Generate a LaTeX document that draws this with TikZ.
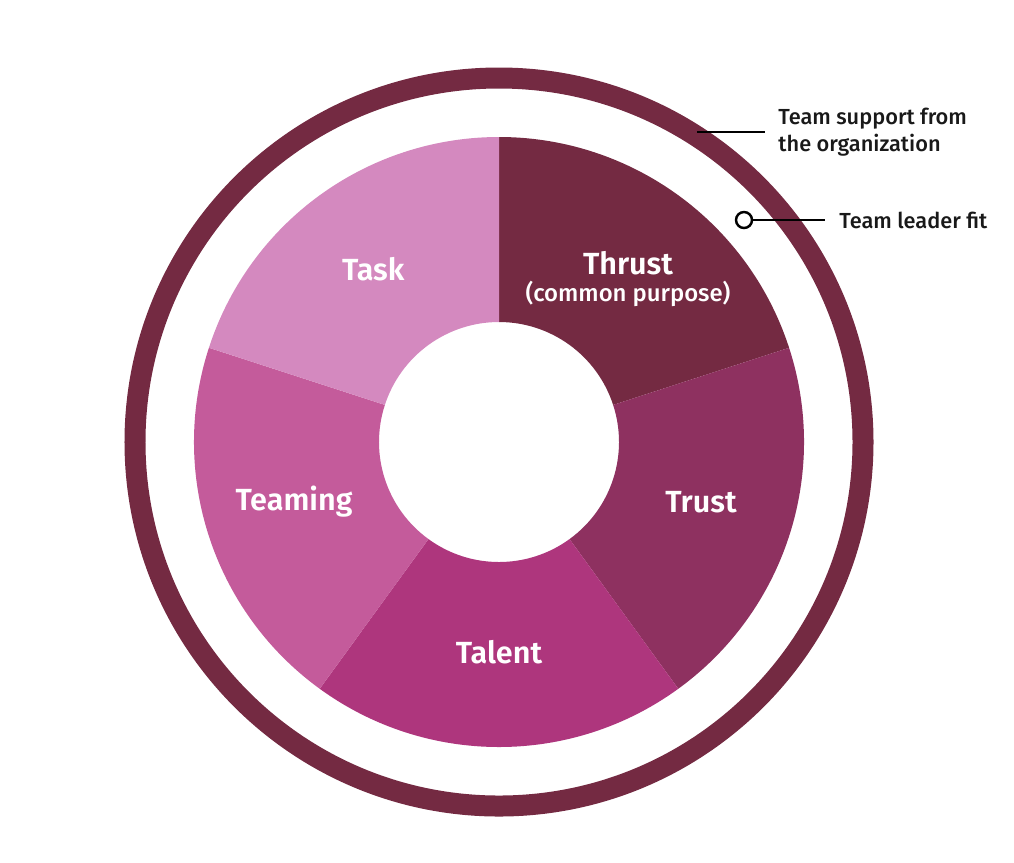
\documentclass[tikz,border=0pt]{standalone}
\usepackage{fontspec}
\IfFontExistsTF{Fira Sans SemiBold}
  {\setmainfont{Fira Sans}[BoldFont={Fira Sans SemiBold}]}
  {\setmainfont{Fira Sans}}
\IfFontExistsTF{Fira Sans Medium}
  {\newfontfamily\mediumfont{Fira Sans Medium}}
  {\newfontfamily\mediumfont{Fira Sans}[FakeBold=1]}
\usetikzlibrary{calc}

\definecolor{plum}{HTML}{742A42}
\definecolor{berry}{HTML}{8E3160}
\definecolor{magenta}{HTML}{AE367D}
\definecolor{orchid}{HTML}{C45B9B}
\definecolor{lilac}{HTML}{D489BF}

\begin{document}
\begin{tikzpicture}[thick]
    % `segment' is the text on a coloured slice of the wheel.
    % `note' is used for the two remarks at the top right.
    % `marker' is the small open circle of the team leader.
    \tikzstyle{segment} = [text=white,font=\fontsize{8.7}{10}\selectfont\bfseries,align=center]
    \tikzstyle{note} = [text=black!90,font=\fontsize{6.2}{7.7}\selectfont\mediumfont,align=left,anchor=west,inner sep=0pt]
    \tikzstyle{marker} = [draw=black,fill=white,circle,line width=0.7pt,minimum size=0.16cm,inner sep=0pt]
    \tikzstyle{pointer} = [draw=black,line width=0.7pt]
    %
    \useasboundingbox (-4.99,-4.20) rectangle (5.15,4.42);
    % Outer ring.
    \draw[plum,line width=0.21cm] (0,0) circle (3.64);
    % Slices of the wheel.
    \foreach \start/\col in {18/plum,-54/berry,-126/magenta,-198/orchid,90/lilac}{
      \fill[\col] (\start:1.20) -- (\start:3.05) arc (\start:\start+72:3.05)
                  -- (\start+72:1.20) arc (\start+72:\start:1.20) -- cycle;
    }
    %
    \node[segment] (thrust) at (1.29,1.63) {Thrust\\[-2.5pt]{\fontsize{6.8}{8}\selectfont\mdseries\mediumfont (common purpose)}};
    \node[segment] (trust) at (2.02,-0.60) {Trust};
    \node[segment] (talent) at (-90:2.10) {Talent};
    \node[segment] (teaming) at (-2.05,-0.60) {Teaming};
    \node[segment] (task) at (126:2.14) {Task};
    %
    \coordinate (supportend) at (1.98,3.10);
    \node[note] (support) at (2.78,3.10) {Team support from\\the organization};
    \node[marker] (leader) at (2.45,2.22) {};
    \node[note] (leaderfit) at (3.39,2.22) {Team leader fit};
    % Draw lines.
    \draw[pointer] (supportend) -- ([xshift=-0.12cm]support.west);
    \draw[pointer] (leader) -- ([xshift=-0.13cm]leaderfit.west);
\end{tikzpicture}
\end{document}
